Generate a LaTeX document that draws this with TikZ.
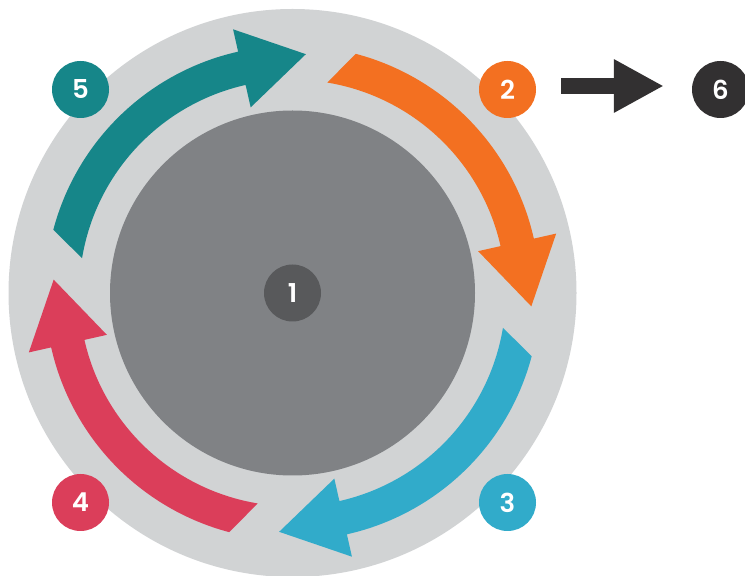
\documentclass[tikz,border=0pt]{standalone}
\usepackage{fontspec}
\setmainfont{Poppins}[BoldFont={Poppins SemiBold}]
\usetikzlibrary{arrows.meta}
\definecolor{ringgray}{HTML}{D1D3D4}
\definecolor{coregray}{HTML}{808285}
\definecolor{hubgray}{HTML}{58595B}
\definecolor{cteal}{HTML}{168689}
\definecolor{corange}{HTML}{F37021}
\definecolor{ccyan}{HTML}{31ABCA}
\definecolor{cred}{HTML}{DB3E5A}
\definecolor{cdark}{HTML}{323031}
\newcommand{\ringarrow}[2]{%
  \begin{scope}[shift={(292.5,283)}, rotate=#1]
    \fill[#2] (165.2:247.4pt) arc[start angle=165.2, end angle=102.7, radius=247.4pt]
      -- (102.7:270.3pt) -- (86.8:239.2pt) -- (102.7:190.3pt) -- (102.7:213.3pt)
      arc[start angle=102.7, end angle=170.6, radius=213.3pt] -- cycle;
  \end{scope}}
\tikzset{
  numcircle/.style={circle, minimum size=57pt, inner sep=0pt, text=white,
    font=\fontsize{26}{26}\selectfont\bfseries},
  bigarrow/.style={draw=cdark, line width=16pt, -{Triangle[length=50pt,width=50pt]}}
}
\begin{document}
\begin{tikzpicture}[x=1pt,y=1pt]
\useasboundingbox (0,0) rectangle (745,576);
\fill[ringgray] (292.5,283) circle[radius=284pt];
\fill[coregray] (292.5,283) circle[radius=182.5pt];
\ringarrow{0}{cteal}
\ringarrow{-90}{corange}
\ringarrow{-180}{ccyan}
\ringarrow{-270}{cred}
\node[numcircle, fill=hubgray] (n1) at (292.5,283) {1};
\node[numcircle, fill=corange] (n2) at (507.5,486.5) {2};
\node[numcircle, fill=ccyan] (n3) at (507.5,73.5) {3};
\node[numcircle, fill=cred] (n4) at (80.5,73.5) {4};
\node[numcircle, fill=cteal] (n5) at (80.5,486.5) {5};
\node[numcircle, fill=cdark] (n6) at (720.5,486.5) {6};
\draw[bigarrow] ([xshift=25pt,yshift=3.5pt]n2.east) -- ([xshift=-28pt,yshift=3.5pt]n6.west);
\end{tikzpicture}
\end{document}
